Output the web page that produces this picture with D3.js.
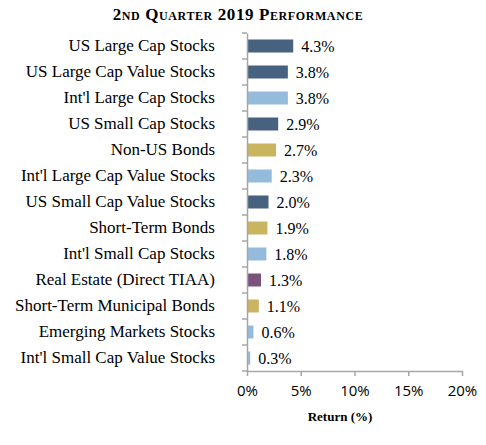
<!DOCTYPE html>
<html><head><meta charset="utf-8">
<script src="https://cdn.jsdelivr.net/npm/d3@7"></script>
<style>body{margin:0;background:#fff;}</style>
</head><body>
<svg id="c" width="486" height="445"></svg>
<script>
const categories = ["US Large Cap Stocks","US Large Cap Value Stocks","Int'l Large Cap Stocks","US Small Cap Stocks","Non-US Bonds","Int'l Large Cap Value Stocks","US Small Cap Value Stocks","Short-Term Bonds","Int'l Small Cap Stocks","Real Estate (Direct TIAA)","Short-Term Municipal Bonds","Emerging Markets Stocks","Int'l Small Cap Value Stocks"];
const values = [4.3,3.8,3.8,2.9,2.7,2.3,2.0,1.9,1.8,1.3,1.1,0.6,0.3];
const groups = ["US","US","Intl","US","Bonds","Intl","US","Bonds","Intl","RealEstate","Bonds","Intl","Intl"];
const groupNames = ["US","Intl","Bonds","RealEstate"];
const tickValues = [0,5,10,15,20];
const title = "2nd Quarter 2019 Performance";
const xTitle = "Return (%)";

const svg = d3.select("#c");
const x = d3.scaleLinear().domain([0,20]).range([247,462]);
const y = d3.scaleBand().domain(categories).range([33,371]).paddingInner(0.5).paddingOuter(0.25);
const color = d3.scaleOrdinal().domain(groupNames).range(["#46627f","#94bbdb","#c9b460","#7b527c"]);
const serif = "'Liberation Serif', serif";
const axisColor = "#a6a6a6";

svg.append("text").attr("x",238).attr("y",20).attr("text-anchor","middle")
  .style("font-family",serif).style("font-weight","bold").style("font-variant","small-caps")
  .style("font-size","17px").style("letter-spacing","0.6px").attr("fill","#000").text(title);

// bars
svg.append("g").selectAll("rect").data(categories).join("rect")
  .attr("x",x(0)).attr("y",d=>y(d))
  .attr("width",(d,i)=>x(values[i])-x(0)).attr("height",y.bandwidth())
  .attr("fill",(d,i)=>color(groups[i]));

// value labels
svg.append("g").selectAll("text").data(categories).join("text")
  .attr("x",(d,i)=>x(values[i])+8).attr("y",d=>y(d)+y.bandwidth()/2)
  .attr("dy","0.35em").style("font-family",serif).style("font-size","16px")
  .attr("fill","#000").text((d,i)=>values[i].toFixed(1)+"%");

// y axis
const yb = d3.scaleBand().domain(categories).range([33,371]);
const yAxis = svg.append("g").attr("transform",`translate(${x(0)},0)`)
  .call(d3.axisLeft(yb).tickSize(0).tickPadding(32));
yAxis.select(".domain").attr("stroke",axisColor).attr("stroke-width",1.5);
yAxis.selectAll("text").style("font-family",serif).style("font-size","17px").attr("fill","#000");
// category boundary ticks
svg.append("g").selectAll("line").data(categories.concat(["_end"])).join("line")
  .attr("x1",x(0)-5).attr("x2",x(0))
  .attr("y1",(d,i)=>33+i*yb.step()).attr("y2",(d,i)=>33+i*yb.step())
  .attr("stroke",axisColor).attr("stroke-width",1.5);

// x axis
const xAxis = svg.append("g").attr("transform","translate(0,371)")
  .call(d3.axisBottom(x).tickValues(tickValues).tickFormat(d=>d+"%").tickSize(5).tickSizeOuter(0).tickPadding(9));
xAxis.select(".domain").attr("stroke",axisColor).attr("stroke-width",1.5);
xAxis.selectAll("line").attr("stroke",axisColor).attr("stroke-width",1.5);
xAxis.selectAll("text").style("font-family","'Open Sans', sans-serif").style("font-size","15px").attr("fill","#000");

svg.append("text").attr("x",340).attr("y",421).attr("text-anchor","middle")
  .style("font-family",serif).style("font-weight","bold").style("font-size","13px")
  .attr("fill","#000").text(xTitle);
</script>
</body></html>
